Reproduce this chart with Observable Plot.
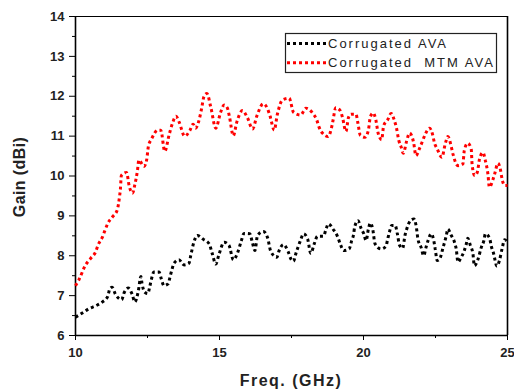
<!DOCTYPE html>
<html><head><meta charset="utf-8">
<script src="https://cdn.jsdelivr.net/npm/d3@7"></script>
<script src="https://cdn.jsdelivr.net/npm/@observablehq/plot@0.6"></script>
<style>body{margin:0;background:#fff}</style>
</head><body><div id="chart"></div>
<script>
const seriesNames = ["Corrugated AVA", "Corrugated  MTM AVA"];
const seriesColors = ["#000000", "#ff0000"];

const avaFreq = [10.0,10.27,10.46,10.72,10.95,11.12,11.19,11.27,11.39,11.6,11.7,11.83,11.97,12.06,12.18,12.27,12.31,12.4,12.51,12.58,12.63,12.72,12.9,12.98,13.07,13.22,13.28,13.34,13.42,13.59,13.77,13.94,14.0,14.11,14.23,14.44,14.64,14.75,14.87,14.98,15.16,15.33,15.48,15.62,15.76,15.85,16.05,16.14,16.23,16.32,16.52,16.67,16.78,16.99,17.07,17.22,17.38,17.48,17.57,17.65,17.8,17.92,18.06,18.17,18.29,18.4,18.61,18.7,18.78,18.96,19.1,19.19,19.31,19.5,19.59,19.66,19.69,19.81,19.91,20.01,20.09,20.17,20.24,20.32,20.4,20.61,20.78,20.84,20.9,20.98,21.1,21.17,21.25,21.36,21.44,21.51,21.63,21.75,21.83,21.89,22.0,22.09,22.17,22.25,22.35,22.44,22.49,22.56,22.67,22.75,22.87,22.93,23.04,23.16,23.22,23.28,23.39,23.49,23.57,23.62,23.71,23.8,23.85,23.97,24.09,24.18,24.23,24.38,24.43,24.53,24.57,24.63,24.72,24.81,24.9,25.0];
const avaGain = [6.46,6.58,6.67,6.75,6.85,6.98,7.17,7.21,7.03,6.9,7.09,7.19,7.03,6.84,7.11,7.48,7.3,7.09,7.05,7.23,7.39,7.59,7.59,7.42,7.25,7.3,7.46,7.63,7.81,7.9,7.77,7.81,8.0,8.34,8.51,8.41,8.3,8.05,7.79,8.03,8.34,8.26,7.9,8.06,8.38,8.56,8.55,8.34,8.13,8.51,8.61,8.45,8.11,7.96,8.13,8.28,8.11,7.92,7.86,8.05,8.36,8.55,8.42,8.06,8.3,8.49,8.49,8.67,8.8,8.65,8.48,8.3,8.13,8.17,8.38,8.55,8.71,8.88,8.7,8.55,8.38,8.67,8.82,8.67,8.3,8.17,8.24,8.42,8.59,8.76,8.76,8.57,8.27,8.19,8.51,8.69,8.88,8.92,8.74,8.42,8.21,8.0,8.21,8.4,8.55,8.38,8.17,7.88,7.96,8.17,8.49,8.67,8.52,8.34,8.17,7.84,7.96,8.11,8.3,8.44,8.26,8.05,7.75,7.9,8.21,8.38,8.55,8.44,8.26,8.02,7.88,7.74,7.88,8.17,8.4,8.34];

const mtmFreq = [10.0,10.12,10.35,10.52,10.7,10.79,10.93,11.02,11.12,11.29,11.45,11.53,11.56,11.59,11.77,11.87,11.98,12.06,12.15,12.2,12.38,12.47,12.53,12.64,12.86,12.96,13.1,13.25,13.37,13.49,13.6,13.79,13.97,14.08,14.17,14.27,14.37,14.46,14.56,14.7,14.87,15.04,15.16,15.27,15.34,15.48,15.6,15.8,15.97,16.15,16.29,16.52,16.67,16.76,16.9,17.01,17.19,17.42,17.57,17.82,18.0,18.23,18.38,18.46,18.58,18.77,18.87,18.93,19.04,19.19,19.27,19.39,19.48,19.57,19.74,19.8,19.89,20.05,20.17,20.24,20.34,20.43,20.51,20.63,20.7,20.84,20.96,21.07,21.14,21.23,21.31,21.38,21.5,21.6,21.74,21.82,21.94,22.03,22.14,22.29,22.4,22.46,22.56,22.72,22.85,22.93,23.04,23.1,23.28,23.45,23.5,23.62,23.74,23.77,23.86,23.95,24.03,24.15,24.23,24.32,24.37,24.49,24.55,24.67,24.76,24.81,24.91,25.0];
const mtmGain = [7.25,7.4,7.77,7.93,8.1,8.28,8.46,8.63,8.81,8.98,9.15,9.49,9.68,10.01,10.09,9.73,9.57,9.78,10.13,10.4,10.24,10.4,10.74,10.93,11.15,11.15,10.62,11.03,11.33,11.5,11.35,11.0,11.14,11.3,11.2,11.35,11.66,11.99,12.07,11.72,11.2,11.6,11.78,11.71,11.51,11.01,11.35,11.64,11.46,11.18,11.49,11.81,11.68,11.49,11.15,11.55,11.91,11.95,11.6,11.53,11.7,11.58,11.4,11.22,11.07,10.99,11.15,11.35,11.71,11.64,11.47,11.12,11.47,11.55,11.55,11.35,11.02,10.97,11.15,11.49,11.58,11.4,11.07,10.91,11.26,11.41,11.57,11.4,11.22,10.88,10.72,10.57,10.88,11.08,10.84,10.51,10.68,10.84,11.04,11.2,11.04,10.84,10.68,10.47,10.84,10.99,10.76,10.57,10.26,10.3,10.64,10.82,10.68,10.3,10.01,10.09,10.43,10.59,10.39,10.05,9.72,9.9,10.04,10.32,10.14,9.93,9.76,9.76];

const xTicks = [10, 15, 20, 25];
const xMinorTicks = [12.5, 17.5, 22.5];
const yTicks = [6, 7, 8, 9, 10, 11, 12, 13, 14];
const yMinorTicks = [6.5, 7.5, 8.5, 9.5, 10.5, 11.5, 12.5, 13.5];
const xLabel = "Freq. (GHz)";
const yLabel = "Gain (dBi)";

const data = [
  ...avaFreq.map((f, i) => ({freq: f, gain: avaGain[i], series: seriesNames[0]})),
  ...mtmFreq.map((f, i) => ({freq: f, gain: mtmGain[i], series: seriesNames[1]}))
];

const font = "'Liberation Sans', Arial, sans-serif";
const dash = "3,3";
const plot = Plot.plot({
  width: 514, height: 391,
  marginLeft: 75, marginRight: 7, marginTop: 16, marginBottom: 56,
  style: {fontFamily: font, background: "#fff", overflow: "visible"},
  x: {domain: [10, 25]},
  y: {domain: [6, 14]},
  color: {domain: seriesNames, range: seriesColors},
  marks: [
    Plot.frame({stroke: "#000", strokeWidth: 1}),
    Plot.ruleX([10, 25], {stroke: "#000", strokeWidth: 1.6}),
    Plot.ruleY([6], {stroke: "#000", strokeWidth: 1.6}),
    Plot.axisX({ticks: xMinorTicks, tickSize: 3, fill: "none", stroke: "#000", label: null}),
    Plot.axisY({ticks: yMinorTicks, tickSize: 3, fill: "none", stroke: "#000", label: null}),
    Plot.axisX({ticks: xTicks, tickSize: 5, tickPadding: 7, fontSize: 13, fontWeight: "bold", fill: "#222", stroke: "#000", label: null}),
    Plot.axisY({ticks: yTicks, tickSize: 6, tickPadding: 5, fontSize: 13, fontWeight: "bold", fill: "#222", stroke: "#000", label: null}),
    Plot.line(data, {x: "freq", y: "gain", z: "series", stroke: "series", strokeWidth: 3, strokeDasharray: dash, strokeLinecap: "butt", strokeLinejoin: "miter", curve: "monotone-x"})
  ]
});

const svg = d3.select(plot);
svg.append("text").attr("x", 291).attr("y", 386).attr("text-anchor", "middle")
  .attr("font-family", font).attr("font-size", 16).attr("font-weight", "bold")
  .attr("letter-spacing", 1.5).attr("fill", "#222").text(xLabel);
svg.append("text").attr("transform", "translate(25,177) rotate(-90)").attr("text-anchor", "middle")
  .attr("font-family", font).attr("font-size", 16).attr("font-weight", "bold")
  .attr("letter-spacing", 0.4).attr("fill", "#222").text(yLabel);

const lg = svg.append("g");
lg.append("rect").attr("x", 285.5).attr("y", 33.5).attr("width", 211).attr("height", 39)
  .attr("fill", "#fff").attr("stroke", "#222").attr("stroke-width", 1.2);
seriesNames.forEach((name, i) => {
  const y = 43.5 + i * 19.3;
  lg.append("line").attr("x1", 287).attr("x2", 326).attr("y1", y).attr("y2", y)
    .attr("stroke", seriesColors[i]).attr("stroke-width", 3)
    .attr("stroke-dasharray", dash).attr("stroke-linecap", "butt");
  lg.append("text").attr("x", 328).attr("y", y + 4.6).attr("text-anchor", "start")
    .attr("font-family", font).attr("font-size", 13).attr("letter-spacing", 2)
    .attr("fill", "#222").attr("xml:space", "preserve").style("white-space", "pre").text(name);
});

document.getElementById("chart").appendChild(plot);
</script>
</body></html>
